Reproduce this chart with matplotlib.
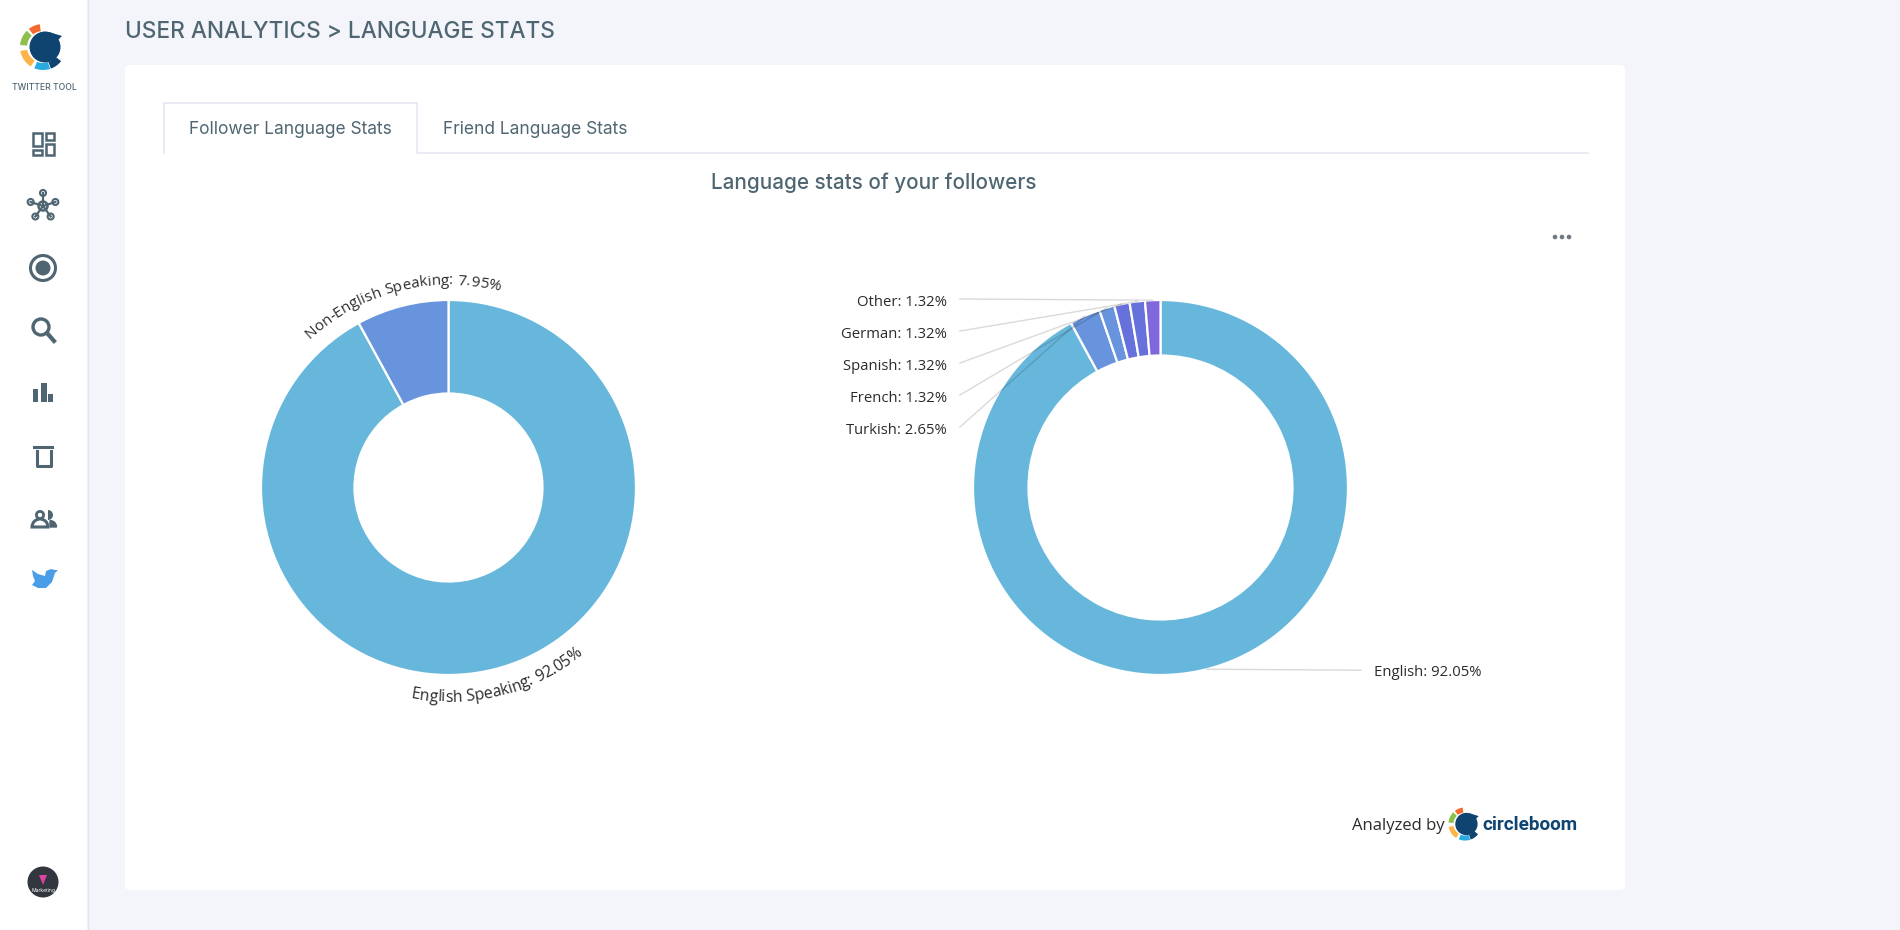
import matplotlib
matplotlib.use('Agg')
import matplotlib.pyplot as plt
import numpy as np
from matplotlib.patches import Rectangle, FancyBboxPatch, Circle, Wedge, Polygon
from matplotlib.font_manager import FontProperties
from matplotlib.textpath import text_to_path

# data
left_names = ['English Speaking', 'Non-English Speaking']
left_values = [92.05, 7.95]
left_colors = ['#67b7dc', '#6794dc']

right_names = ['English', 'Turkish', 'French', 'Spanish', 'German', 'Other']
right_values = [92.05, 2.65, 1.32, 1.32, 1.32, 1.32]
right_colors = ['#67b7dc', '#6794dc', '#6794dc', '#6771dc', '#6771dc', '#8067dc']

W, H = 1900, 930
R = 187.5
CY = 487.5
LEFT_CX, RIGHT_CX = 448.5, 1160.5
BG = '#f4f5fa'
SLATE = '#4f6672'
LABEL = '#2b2b2b'
LABEL_FONT = 'Open Sans'
UI_FONT = 'Inter'

fig = plt.figure(figsize=(W / 100, H / 100), dpi=100, facecolor=BG)


def page_axes(z):
    a = fig.add_axes([0, 0, 1, 1], zorder=z)
    a.set_xlim(0, W)
    a.set_ylim(H, 0)
    a.axis('off')
    return a


def draw_donut(cx, values, colors, inner):
    a = fig.add_axes([(cx - R) / W, 1 - (CY + R) / H, 2 * R / W, 2 * R / H], zorder=2)
    a.pie(values, colors=colors, startangle=90, counterclock=False, radius=1,
          wedgeprops=dict(width=1 - inner / R, edgecolor='white', linewidth=1.6))
    a.set_xlim(-1, 1)
    a.set_ylim(-1, 1)
    a.axis('off')


def mid_angles(values):
    # clockwise from 12 o'clock, in degrees
    v = np.array(values, dtype=float)
    edges = np.concatenate([[0], np.cumsum(v)]) / v.sum() * 360
    return (edges[:-1] + edges[1:]) / 2


def curved_text(a, s, cx, cy, mid, r, size, bottom=False):
    fp = FontProperties(family=LABEL_FONT, size=size)
    k = 100 / 72

    def width(t):
        return text_to_path.get_text_width_height_descent(t, fp, False)[0] * k

    total = width(s)
    for i, ch in enumerate(s):
        if ch == ' ':
            continue
        pos = width(s[:i]) + width(ch) / 2 - total / 2
        d = np.degrees(pos / r)
        th = mid - d if bottom else mid + d
        rot = 180 - th if bottom else -th
        x = cx + r * np.sin(np.radians(th))
        y = cy - r * np.cos(np.radians(th))
        a.text(x, y, ch, fontproperties=fp, color=LABEL, ha='center', va='baseline',
               rotation=rot, rotation_mode='anchor')


def logo(a, cx, cy, s):
    segs = [(-38, -8, '#f26a2e'), (-85, -45, '#8dc04a'), (-148, -100, '#fdb549'),
            (-198, -158, '#29abe2'), (128, 160, '#0f4470')]
    for t1, t2, c in segs:
        a.add_patch(Wedge((cx, cy), 23 * s, t1 - 90, t2 - 90, width=7 * s, color=c, lw=0))
    a.add_patch(Circle((cx + 2 * s, cy), 15.5 * s, color='#0f4470', lw=0))
    a.add_patch(Polygon([(cx + 6 * s, cy - 15 * s), (cx + 19 * s, cy - 11 * s),
                         (cx + 14 * s, cy - 6 * s)], color='#0f4470', lw=0))


def ring(a, x, y, r, lw=2.0, c=SLATE, fc='none'):
    a.add_patch(Circle((x, y), r, fc=fc, ec=c, lw=lw))


def box(a, x, y, w, h, filled=False, lw=1.8):
    a.add_patch(Rectangle((x, y), w, h, fc=SLATE if filled else 'none',
                          ec=SLATE, lw=0 if filled else lw))


bg = page_axes(0)
# sidebar and card
bg.add_patch(Rectangle((0, 0), 87, H, fc='white', ec='none'))
bg.plot([87.5, 87.5], [0, H], color='#e2e5f0', lw=1)
bg.add_patch(FancyBboxPatch((129, 69), 1492, 817, boxstyle='round,pad=4,rounding_size=5',
                            fc='white', ec='none'))
bg.text(125, 32, 'USER ANALYTICS > LANGUAGE STATS', family=UI_FONT, fontsize=16.3,
        color=SLATE, va='center', ha='left', fontweight='medium')

# tabs
tab_line = '#e2e5f0'
bg.plot([163.5, 163.5, 416.5, 416.5, 1588], [153, 103.5, 103.5, 153.5, 153.5],
        color=tab_line, lw=1.1)
bg.text(290, 129, 'Follower Language Stats', family=UI_FONT, fontsize=12.5, color=SLATE,
        ha='center', va='center')
bg.text(535, 129, 'Friend Language Stats', family=UI_FONT, fontsize=12.5, color=SLATE,
        ha='center', va='center')
bg.text(874, 182.5, 'Language stats of your followers', family=UI_FONT, fontsize=14.9,
        color=SLATE, ha='center', va='center', fontweight='medium')
for dx in (-7, 0, 7):
    bg.add_patch(Circle((1562 + dx, 237), 2.3, color='#6f7780', lw=0))

# sidebar icons
logo(bg, 43, 47, 1.0)
bg.text(44, 87.5, 'TWITTER TOOL', family=UI_FONT, fontsize=6.2, color=SLATE, ha='center', va='center',
        fontweight='medium')
box(bg, 33, 133, 9, 13)
box(bg, 46, 133, 8, 7)
box(bg, 33, 150, 9, 5)
box(bg, 46, 144, 8, 11)
for t in range(5):
    ang = np.radians(72 * t)
    x, y = 43 + 13 * np.sin(ang), 206 - 13 * np.cos(ang)
    bg.plot([43, x], [206, y], color=SLATE, lw=1.6)
    ring(bg, x, y, 3, lw=1.5, fc='white')
ring(bg, 43, 206, 4.5, lw=1.8, fc='white')
ring(bg, 43, 268, 12.5, lw=2.2)
bg.add_patch(Circle((43, 268), 7.5, color=SLATE, lw=0))
ring(bg, 41, 327, 8, lw=2.4)
bg.plot([47, 54], [333, 341], color=SLATE, lw=3)
box(bg, 33, 389, 5, 13, True)
box(bg, 41, 383, 5.5, 19, True)
box(bg, 48, 394, 5, 8, True)
bg.plot([34, 52], [446.5, 446.5], color=SLATE, lw=2.2)
bg.plot([36.5, 36.5, 50.5, 50.5], [451, 466, 466, 451], color=SLATE, lw=2.2)
ring(bg, 40, 515, 3.6, lw=2)
bg.add_patch(Wedge((48, 515), 5, -90, 90, color=SLATE, lw=0))
bg.add_patch(Wedge((40, 527), 8, 180, 360, fc='none', ec=SLATE, lw=2.2))
bg.add_patch(Wedge((50, 527), 6.5, 270, 360, fc=SLATE, ec=SLATE, lw=1))
bg.add_patch(Polygon([(32, 585), (38, 588), (46, 588), (52, 582), (55, 573), (58, 570), (55, 570),
                      (51, 569), (46, 571), (45, 576), (38, 574), (32, 570), (33, 576), (35, 581)],
                     color='#4a9ee8', lw=0))
bg.add_patch(Circle((43, 882), 15.5, color='#32363f', lw=0))
bg.add_patch(Polygon([(39, 875), (47, 875), (43, 885)], color='#d845a0', lw=0))
bg.text(43, 890, 'Marketing', family=UI_FONT, fontsize=3.6, color='white', ha='center', va='center')

# donuts
draw_donut(LEFT_CX, left_values, left_colors, 94)
draw_donut(RIGHT_CX, right_values, right_colors, 132)

top = page_axes(3)
# curved labels on the left donut
left_mid = mid_angles(left_values)
curved_text(top, f'{left_names[0]}: {left_values[0]:.2f}%', LEFT_CX, CY, left_mid[0], 214, 11.3, bottom=True)
curved_text(top, f'{left_names[1]}: {left_values[1]:.2f}%', LEFT_CX, CY, left_mid[1] - 360, 203, 11.0)

# leader lines and labels on the right donut
right_mid = mid_angles(right_values)
row_y = {name: 427 - 32 * i for i, name in enumerate(right_names[1:])}
for name, val, ang in zip(right_names, right_values, right_mid):
    ex = RIGHT_CX + R * np.sin(np.radians(ang))
    ey = CY - R * np.cos(np.radians(ang))
    txt = f'{name}: {val:.2f}%'
    if name == 'English':
        top.plot([ex, 1361], [ey, ey + 1], color='black', alpha=0.15, lw=1)
        top.text(1374, ey + 3.5, txt, family=LABEL_FONT, fontsize=10.7, color=LABEL, ha='left', va='center')
    else:
        y = row_y[name]
        top.plot([960, ex], [y, ey], color='black', alpha=0.15, lw=1)
        top.text(947, y + 3.5, txt, family=LABEL_FONT, fontsize=10.7, color=LABEL, ha='right', va='center')

# footer
bg.text(1352, 826, 'Analyzed by', family=LABEL_FONT, fontsize=12, color=LABEL, ha='left', va='center')
logo(bg, 1465, 824, 0.72)
bg.text(1482, 825, 'circleboom', family='Roboto', fontsize=13.6, fontweight='bold', color='#0f4470',
        ha='left', va='center')

fig.savefig('out.png', dpi=100, facecolor=BG)
